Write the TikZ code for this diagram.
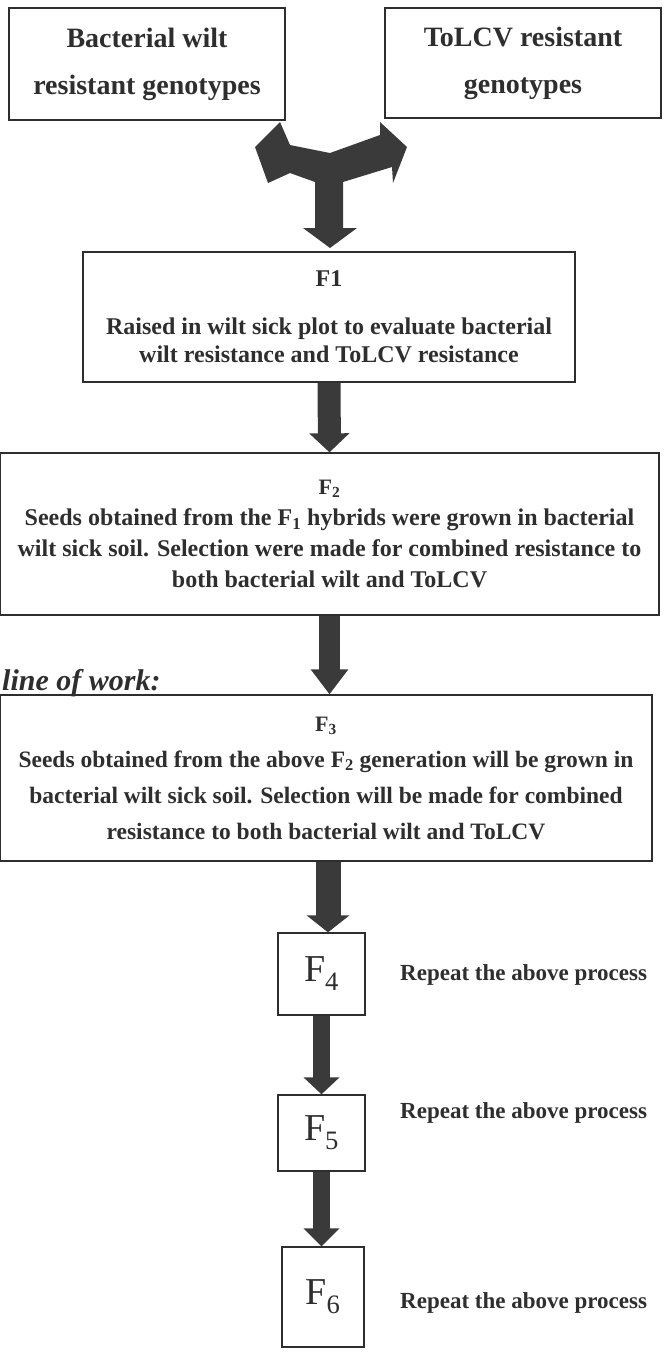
\documentclass[tikz,border=0pt]{standalone}
\usepackage{fontspec}
\setmainfont{Liberation Serif}
\usetikzlibrary{arrows.meta}
\definecolor{ink}{HTML}{2E2E2E}
\definecolor{arrowc}{HTML}{3A3A3A}
\begin{document}
\begin{tikzpicture}[x=1pt,y=-1pt,
  box/.style={draw=ink, line width=1.3pt, inner sep=0pt, align=center, text=ink},
  fatarrow/.style n args={3}{draw=arrowc, line width=#1pt, -{Triangle[width=#2pt,length=#3pt]}},
  lab/.style={anchor=west, text=ink, inner sep=0pt, font=\fontsize{23}{23}\selectfont\bfseries}]
\useasboundingbox (0,0) rectangle (665,1352);

% top boxes
\node[box, minimum width=276pt, minimum height=112pt, font=\fontsize{28}{47}\selectfont\bfseries] (a) at (147,64) {Bacterial wilt\\resistant genotypes};
\node[box, minimum width=276pt, minimum height=110pt, font=\fontsize{28}{47}\selectfont\bfseries] (b) at (523,63) {ToLCV resistant\\genotypes};

% F1
\node[box, minimum width=492pt, minimum height=130pt, font=\fontsize{24}{28}\selectfont\bfseries] (f1) at (329,317) {F1\\[20pt]Raised in wilt sick plot to evaluate bacterial\\wilt resistance and ToLCV resistance};

% F2
\node[box, minimum width=659pt, minimum height=162pt, font=\fontsize{24}{31}\selectfont\bfseries] (f2) at (329.5,534) {{\fontsize{22}{31}\selectfont F\textsubscript{2}}\\Seeds obtained from the F\textsubscript{1} hybrids were grown in bacterial\\wilt sick soil. Selection were made for combined resistance to\\both bacterial wilt and ToLCV};

% line of work
\node[anchor=west, inner sep=0pt, text=ink, font=\fontsize{30}{30}\selectfont\bfseries\itshape] (low) at (2,683) {line of work:};

% F3
\node[box, minimum width=652pt, minimum height=166pt, font=\fontsize{23.5}{36}\selectfont\bfseries] (f3) at (326,778) {{\fontsize{22}{36}\selectfont F\textsubscript{3}}\\Seeds obtained from the above F\textsubscript{2} generation will be grown in\\bacterial wilt sick soil. Selection will be made for combined\\resistance to both bacterial wilt and ToLCV};

% F4-F6
\node[box, minimum width=87pt, minimum height=82pt, font=\fontsize{38}{38}\selectfont] (f4) at (321.5,974) {F\textsubscript{4}};
\node[box, minimum width=87pt, minimum height=76pt, font=\fontsize{38}{38}\selectfont] (f5) at (321.5,1133) {F\textsubscript{5}};
\node[box, minimum width=82pt, minimum height=100pt, font=\fontsize{38}{38}\selectfont] (f6) at (323,1297) {F\textsubscript{6}};

\node[lab] (r4) at (400,975) {Repeat the above process};
\node[lab] (r5) at (400,1113) {Repeat the above process};
\node[lab] (r6) at (400,1303) {Repeat the above process};

% three-way arrow
\fill[arrowc] (330,248) -- (357,228) -- (343,228) -- (343,182) -- (392,167)
  -- (393,183) -- (407,147) -- (380,122) -- (380,135) -- (330,153)
  -- (290,145) -- (280,122) -- (255,147) -- (268,183) -- (290,173)
  -- (315,182) -- (315,228) -- (303,228) -- cycle;

% straight arrows
\draw[fatarrow={23}{39}{19}] (f1.south) -- (f2.north);
\draw[fatarrow={21}{36}{25}] (f2.south) -- (f2.south |- f3.north);
\draw[fatarrow={25}{42}{17}] ([xshift=6.5pt]f4.north |- f3.south) -- ([xshift=6.5pt]f4.north);
\draw[fatarrow={17}{35}{17}] (f4.south) -- (f5.north);
\draw[fatarrow={17}{35}{18}] (f5.south) -- (f5.south |- f6.north);
\end{tikzpicture}
\end{document}
